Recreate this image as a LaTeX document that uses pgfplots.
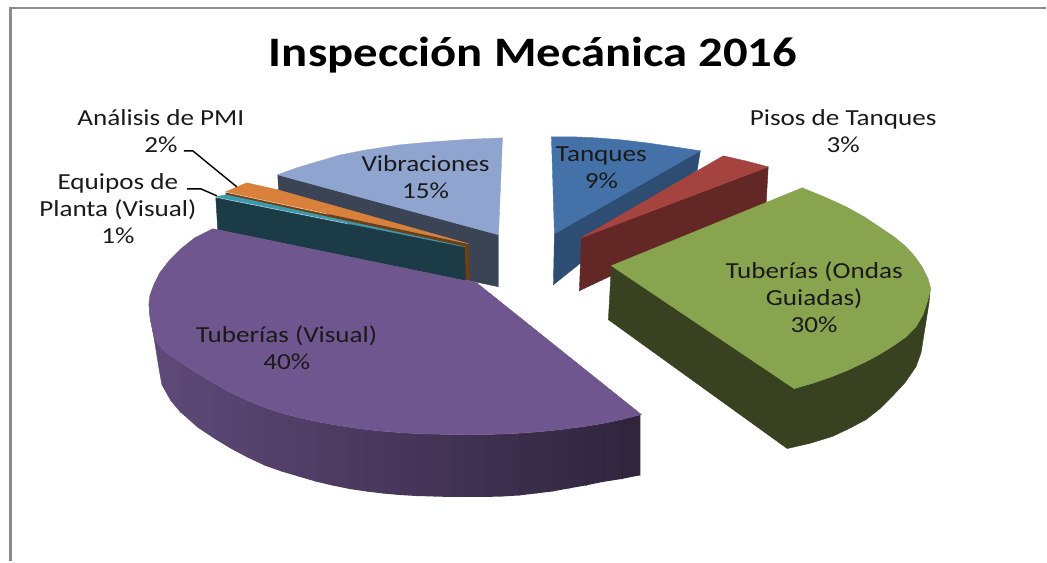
\documentclass[border=0pt]{standalone}
\usepackage{pgfplots}
\pgfplotsset{compat=1.18}
\usepackage{fontspec}
\setmainfont{Carlito}
\definecolor{vibT}{HTML}{8FA5CF}
\definecolor{vibS}{HTML}{3B4454}
\definecolor{oraT}{HTML}{D9813A}
\definecolor{oraS}{HTML}{6E3F14}
\definecolor{teaT}{HTML}{3A9BB0}
\definecolor{teaS}{HTML}{1B3B47}
\definecolor{purT}{HTML}{6F568E}
\definecolor{greT}{HTML}{88A44E}
\definecolor{greS}{HTML}{384220}
\definecolor{redT}{HTML}{A5443F}
\definecolor{redS}{HTML}{632826}
\definecolor{blueT}{HTML}{4472A8}
\definecolor{blueS}{HTML}{2D4D73}
\definecolor{frameC}{HTML}{8A8A8A}
\definecolor{txt}{HTML}{1A1A1A}
\newcommand{\band}[2]{\addplot[fill=#1,draw=#1,line width=0.4pt] coordinates {#2} -- cycle;}
% side strip of the purple slice: each strip runs 1.5 units under the next one
\newcommand{\pb}[7]{\pgfmathsetmacro\xe{#5+1.5}\addplot[fill=purT!#1!black,draw=none] coordinates {(#2,#3)(#2,#4)(#5,#6)(\xe,#6)(\xe,#7)(#5,#7)} -- cycle;}
\newcommand{\lab}[3]{\node[text=txt,inner sep=0pt] at (axis cs:#1,#2) {\fontsize{23}{27}\selectfont\scalebox{1.18}[1]{\begin{tabular}{@{}c@{}}#3\end{tabular}}};}
\begin{document}
\begin{tikzpicture}
\begin{axis}[
  at={(0,0)}, anchor=south west,
  scale only axis, width=1047pt, height=562pt,
  xmin=0, xmax=1047, ymin=0, ymax=562, y dir=reverse,
  hide axis, clip=false]
% frame
\addplot[frameC,line width=2.2pt] coordinates {(10.5,562) (10.5,8) (1047,8)};
% Vibraciones
\band{vibS}{(278,175)(499,235)(499,287)(470,281)(279,191)}
\band{vibT}{(278,175)(297,168)(317,162)(341,155)(367,150)(400,145)(433,142)(468,139.5)(503,138)(499,235)}
% Analisis de PMI
\band{oraS}{(226,193)(469,245)(470,281)(466,281)(465,247)(226,195)}
\band{oraT}{(226,192)(247,183)(278,190)(469,244)}
% Equipos
\band{teaS}{(216,198)(465,248)(466,281)(218,230)}
\band{teaT}{(216,197)(226,195)(465,247)}
% Tuberias visual: side bands with a dark gradient
\band{purT!84!black}{(149.5,310)(150,317)(154,337)(159,368)(162,385)(171,401)(181,413)(183,413)(183,363)(172,357.5)(164,351)(158,344)(154,337)(151,322)}
\pb{82}{181}{363}{413}{198}{428}{374}
\pb{81}{198}{374}{428}{214.5}{439}{384}
\pb{79}{214.5}{384}{439}{231}{449}{393}
\pb{78}{231}{393}{449}{248}{458}{401}
\pb{76}{248}{401}{458}{265}{466}{408}
\pb{75}{265}{408}{466}{282}{472}{413.5}
\pb{73}{282}{413.5}{472}{299}{477}{418}
\pb{72}{299}{418}{477}{316}{482}{421.8}
\pb{70}{316}{421.8}{482}{333}{486}{425}
\pb{69}{333}{425}{486}{350}{489.5}{427.7}
\pb{67}{350}{427.7}{489.5}{367}{492}{430}
\pb{66}{367}{430}{492}{383.5}{494}{431.7}
\pb{64}{383.5}{431.7}{494}{400}{495.5}{433}
\pb{63}{400}{433}{495.5}{417}{496.5}{434}
\pb{61}{417}{434}{496.5}{434}{497}{434.5}
\pb{60}{434}{434.5}{497}{451}{497.5}{435}
\pb{58}{451}{435}{497.5}{468}{497.5}{435}
\pb{57}{468}{435}{497.5}{485}{497.5}{435}
\pb{55}{485}{435}{497.5}{502}{497}{434.5}
\pb{54}{502}{434.5}{497}{519}{496}{433.7}
\pb{52}{519}{433.7}{496}{536}{494}{432.5}
\pb{51}{536}{432.5}{494}{552.5}{492}{431}
\pb{49}{552.5}{431}{492}{569}{489}{429}
\pb{48}{569}{429}{489}{586}{486}{426.8}
\pb{46}{586}{426.8}{486}{603}{482.5}{424}
\pb{45}{603}{424}{482.5}{622}{479.5}{420}
\pb{43}{622}{420}{479.5}{639.5}{476}{415.5}
\band{purT}{(213,229)(218,230)(466,281)(470,281)(477,283)(642,415)(622,420)(603,424)(586,426.8)(569,429)(552.5,431)(536,432.5)(519,433.7)(502,434.5)(485,435)(468,435)(451,435)(434,434.5)(417,434)(400,433)(383.5,431.7)(367,430)(350,427.7)(333,425)(316,421.8)(299,418)(282,413.5)(265,408)(248,401)(231,393)(214.5,384)(198,374)(181,363)(172,357.5)(164,351)(158,344)(154,337)(151,322)(149,305)(150,296)(154,285)(160,273)(170,260)(180,250)(195,238)}
% Tanques
\band{blueS}{(701,151)(698,170)(554,285)(555,234)}
\band{blueT}{(552,137)(575,137)(597,138)(622,140)(647,143)(675,147)(701,151)(555,234)}
% Pisos
\band{redS}{(582,238)(769,167)(767,203)(580,291)}
\band{redT}{(582,238)(724,156)(746,161)(769,167)}
% Tuberias ondas guiadas
\band{greS}{(612,266)(795,389)(814,383.5)(833,377)(850,370)(867,362)(880,355)(893,347)(906,338)(917,327)(924,315)(928,303)(931,292)(930,303)(926,328)(922,353)(917,367)(906,383)(893,397)(881,409)(867,420)(850,429)(833,437)(810,444)(788,449)(609,320)}
\band{greT}{(612,266)(803,188)(825,197)(847,207)(865,217)(880,227)(895,237)(907,247)(916,257)(923,267)(929,279)(932,290)(931,292)(928,303)(924,315)(917,327)(906,338)(893,347)(880,355)(867,362)(850,370)(833,377)(814,383.5)(795,389)}
% leader lines
\addplot[black,line width=1.4pt] coordinates {(184,151) (193,151) (237,187)};
\addplot[black,line width=1.4pt] coordinates {(187,189) (201,189) (217,196)};
% text
\node[text=black,inner sep=0pt] at (axis cs:533.5,55) {\fontsize{42}{50}\selectfont\bfseries\scalebox{1.16}[1]{Inspección Mecánica 2016}};
\lab{161}{133.5}{Análisis de PMI\\2\%}
\lab{118}{211.5}{Equipos de\\Planta (Visual)\\1\%}
\lab{426}{179.5}{Vibraciones\\15\%}
\lab{602}{170}{Tanques\\9\%}
\lab{844}{133.5}{Pisos de Tanques\\3\%}
\lab{287}{351}{Tuberías (Visual)\\40\%}
\lab{815}{300}{Tuberías (Ondas\\Guiadas)\\30\%}
\end{axis}
\path (0,0) rectangle (1047pt,562pt);
\end{tikzpicture}
\end{document}
